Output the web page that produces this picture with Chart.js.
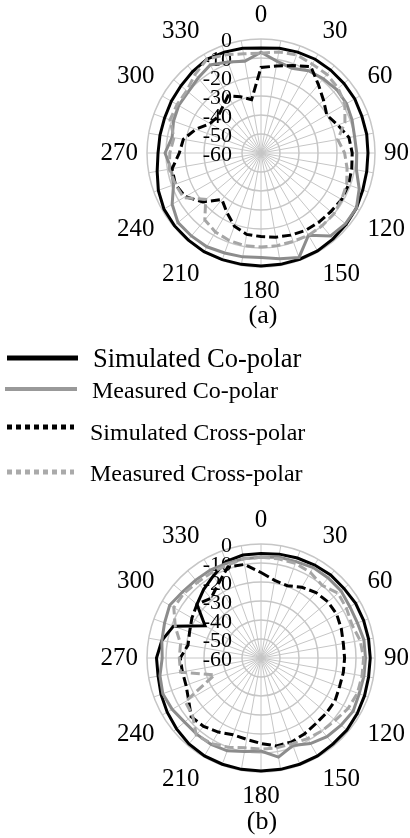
<!DOCTYPE html>
<html>
<head>
<meta charset="utf-8">
<script src="https://cdn.jsdelivr.net/npm/chart.js@4.4.1/dist/chart.umd.min.js"></script>
<style>
  html, body { margin: 0; padding: 0; background: #fff; overflow: hidden; }
  body { width: 410px; height: 838px; position: relative; font-family: "Liberation Serif", "Times New Roman", serif; }
  canvas.polar { position: absolute; left: 0; }
  .cap { position: absolute; width: 100px; text-align: center; font-size: 26px; line-height: 30px; }
  .row { position: absolute; left: 0; height: 30px; }
  .row svg { position: absolute; left: 0; top: 0; }
  .row span { position: absolute; white-space: nowrap; line-height: 30px; top: 0; }
</style>
</head>
<body>
<canvas id="chartA" class="polar" width="440" height="306" style="top:0"></canvas>
<div class="cap" style="top:300px;left:213px">(a)</div>

<div class="row" style="top:343px">
  <svg width="90" height="30"><line x1="7" y1="15" x2="78" y2="15" stroke="#000" stroke-width="5"/></svg>
  <span style="left:93px;font-size:26.5px">Simulated Co-polar</span>
</div>
<div class="row" style="top:375px">
  <svg width="90" height="30"><line x1="5" y1="14" x2="77" y2="14" stroke="#999" stroke-width="4"/></svg>
  <span style="left:92px;font-size:24px">Measured Co-polar</span>
</div>
<div class="row" style="top:417px">
  <svg width="90" height="30"><line x1="7" y1="10" x2="74" y2="10" stroke="#000" stroke-width="5" stroke-dasharray="5 4"/></svg>
  <span style="left:90px;font-size:24px">Simulated Cross-polar</span>
</div>
<div class="row" style="top:458px">
  <svg width="90" height="30"><line x1="7" y1="14" x2="74" y2="14" stroke="#aaa" stroke-width="5" stroke-dasharray="5 4"/></svg>
  <span style="left:90px;font-size:24px">Measured Cross-polar</span>
</div>

<canvas id="chartB" class="polar" width="440" height="306" style="top:505px"></canvas>
<div class="cap" style="top:806px;left:212px">(b)</div>

<script>
// angles every 10 degrees, only multiples of 30 are labelled
const angleLabels = ['0','','','30','','','60','','','90','','','120','','','150','','',
                     '180','','','210','','','240','','','270','','','300','','','330','',''];
const dbTicks = [0, -10, -20, -30, -40, -50, -60];
const serif = '"Liberation Serif", "Times New Roman", serif';

// (a)
const simCoA = [-4.7,-4,-3.5,-3,-3,-3,-3,-3.5,-3.5,-3.7,-3.5,-3,-2,-1.5,-1,-0.5,-0.5,-0.5,
                -0.5,-0.5,-0.3,0,-0.3,-0.5,-1,-2.5,-4.5,-5.8,-6,-6,-5.5,-5,-4,-3,-3.5,-4];
const measCoA = [-7,-11,-12.5,-10,-9,-8,-8,-9,-10,-9.6,-9,-5,-2,-2,-3,-10,-1.5,-3.5,
                 -5,-4.5,-4,-3,-3,-3,-6,-11,-12,-9.5,-12.5,-11,-10,-10,-8.5,-6.5,-9,-11];
const simCrossA = [-15,-13.5,-11,-7.5,-13,-17,-20,-17,-13,-12,-11.5,-11,-11,-12,-12.5,-13,-14,-15,
                   -16,-16.5,-19,-24,-28,-20,-14,-12,-12.5,-17,-18.5,-23.5,-29,-30.3,-28.5,-25.3,-28.5,-31.5];
const measCrossA = [-7.5,-6,-5,-6,-6,-7,-9,-13,-19,-16,-14,-12,-11,-10,-10,-10,-10.5,-10.5,
                    -10.5,-10.5,-11,-12,-14,-22,-13,-12,-11,-12,-13.5,-9,-9,-9,-6,-3,-5,-7];

// (b)
const simCoB = [-5,-4.5,-4,-3.5,-3,-3,-2.5,-2.5,-2.5,-2.5,-2.5,-2,-1.5,-1,-1,-0.5,-0.5,-0.5,
                -0.5,-0.5,-0.5,-0.5,-1,-2,-3,-4,-5,-5,-7,-11,-26,-16,-13,-10,-6,-5];
const measCoB = [-7,-6,-6,-5,-5,-5,-6,-6,-5,-5,-5,-5,-4,-5,-6,-8,-11,-7,
                 -11,-10,-8,-7.5,-7.5,-7.5,-6,-5,-6,-8,-7,-6,-4.5,-6,-6.5,-6.5,-7,-7];
const simCrossB = [-15,-18.5,-19.5,-17,-15,-14,-14,-15,-16,-16,-16,-16,-15,-15,-15,-14,-13,-13,
                   -15,-16.5,-17,-15,-13,-12,-16,-18,-18,-17.5,-21,-20,-18,-16,-19,-15,-9,-10];
const measCrossB = [-7,-7,-7,-8,-10,-7,-8,-9,-7,-6,-6,-6,-7,-9,-10,-11,-12,-12,
                    -12,-12,-10,-8,-7,-13,-14,-34,-17,-17,-17,-12,-7,-7,-8,-8,-8,-7];

const tickLabelPlugin = {
  id: 'dbTickLabels',
  beforeDatasetsDraw(chart) {
    const s = chart.scales.r;
    const ctx = chart.ctx;
    ctx.save();
    ctx.font = '22px ' + serif;
    ctx.fillStyle = '#000';
    ctx.textAlign = 'right';
    ctx.textBaseline = 'middle';
    dbTicks.forEach(v => {
      ctx.fillText(String(v), s.xCenter - 29, s.yCenter - s.getDistanceFromCenterForValue(v) + 2);
    });
    ctx.restore();
  }
};

function ds(label, data, color, dash) {
  return {
    label: label,
    data: data,
    borderColor: color,
    borderWidth: 3,
    borderDash: dash,
    fill: false,
    pointRadius: 0,
    tension: 0
  };
}

function makeChart(id, sc, mc, sx, mx) {
  new Chart(document.getElementById(id), {
    type: 'radar',
    data: {
      labels: angleLabels,
      datasets: [
        ds('Measured Cross-polar', mx, '#a6a6a6', [9, 4]),
        ds('Simulated Cross-polar', sx, '#000', [9, 4]),
        ds('Measured Co-polar', mc, '#8c8c8c', []),
        ds('Simulated Co-polar', sc, '#000', [])
      ]
    },
    options: {
      responsive: false,
      animation: false,
      layout: { padding: { left: 93, right: 23, top: 0, bottom: 0 } },
      plugins: { legend: { display: false }, tooltip: { enabled: false } },
      scales: {
        r: {
          min: -60,
          max: 0,
          ticks: { stepSize: 10, display: false },
          grid: { circular: true, color: '#c6c6c6', lineWidth: 1.5 },
          angleLines: { color: '#c6c6c6', lineWidth: 1 },
          pointLabels: { font: { family: serif, size: 25 }, color: '#000', padding: 9 }
        }
      }
    },
    plugins: [tickLabelPlugin]
  });
}

makeChart('chartA', simCoA, measCoA, simCrossA, measCrossA);
makeChart('chartB', simCoB, measCoB, simCrossB, measCrossB);
</script>
</body>
</html>
